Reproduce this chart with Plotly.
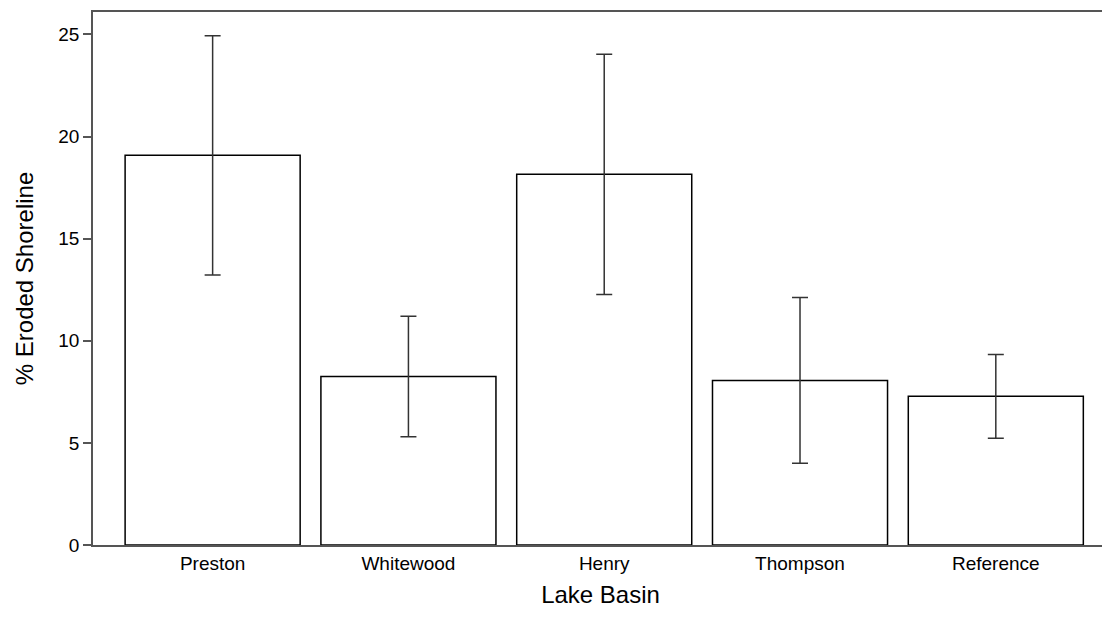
import plotly.graph_objects as go

categories = ["Preston", "Whitewood", "Henry", "Thompson", "Reference"]
means = [19.08, 8.25, 18.15, 8.06, 7.28]
errors = [5.86, 2.95, 5.88, 4.06, 2.05]
y_ticks = [0, 5, 10, 15, 20, 25]

fig = go.Figure()
fig.add_trace(go.Bar(
    x=list(range(len(categories))),
    y=means,
    width=0.894,
    marker=dict(color="white", line=dict(color="black", width=1.5)),
    error_y=dict(type="data", array=errors, visible=True,
                 color="#333333", thickness=1.5, width=8),
    showlegend=False,
))

fig.update_layout(
    width=1110, height=625,
    margin=dict(l=85, r=10, t=2, b=88),
    paper_bgcolor="white", plot_bgcolor="white",
    font=dict(family="Liberation Sans, Arial, sans-serif", color="black"),
    xaxis=dict(
        range=[-0.611, 4.573],
        tickmode="array", tickvals=list(range(len(categories))), ticktext=categories,
        tickfont=dict(size=19),
        showline=True, linecolor="#555555", linewidth=1.5, mirror=True,
        ticks="", showgrid=False, zeroline=False,
        title=dict(text="Lake Basin", font=dict(size=24), standoff=14),
    ),
    yaxis=dict(
        range=[0, 26.1],
        tickmode="array", tickvals=y_ticks,
        tickfont=dict(size=19),
        showline=True, linecolor="#555555", linewidth=1.5,
        ticks="outside", ticklen=8, tickcolor="#555555", tickwidth=1.5,
        showgrid=False, zeroline=False,
        title=dict(text="% Eroded Shoreline", font=dict(size=24), standoff=18),
    ),
)

fig.write_html("out.html")
